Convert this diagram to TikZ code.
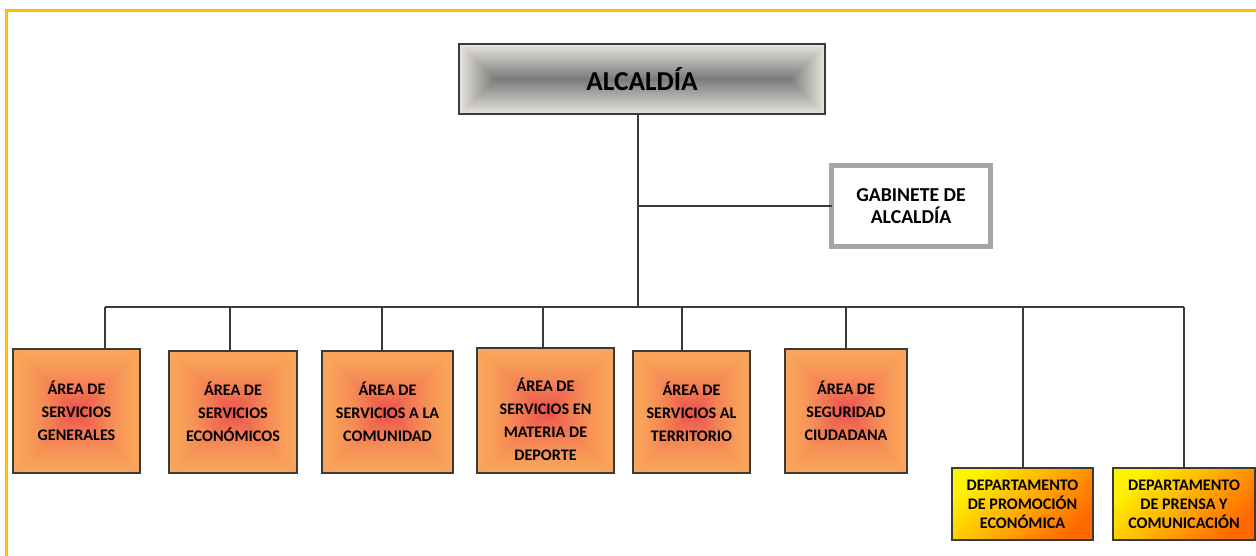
\documentclass[tikz,border=0pt]{standalone}
\usepackage{fontspec}
\setmainfont{Carlito}
\usepackage{xcolor}
\usepackage{tikz}
\usetikzlibrary{calc}
\definecolor{frameyel}{HTML}{FFC000}
\definecolor{edge}{HTML}{3A3A3A}
\definecolor{gabgray}{HTML}{A6A6A6}
\definecolor{depyel}{HTML}{FFF200}
\definecolor{deporg}{HTML}{FF6A00}
\pgfdeclarefunctionalshading{alcgray}{\pgfpoint{-50bp}{-50bp}}{\pgfpoint{50bp}{50bp}}{}{
  abs 25 exch sub 0.04 mul
  exch abs 25 exch sub 0.2044 mul
  2 copy gt {exch} if pop
  dup 0 lt {pop 0} if
  dup dup -0.43 mul 0.91 add
  3 1 roll -0.42 mul 0.90 add
  exch -0.39 mul 0.87 add
}
\pgfdeclarefunctionalshading{areaorg}{\pgfpoint{-50bp}{-50bp}}{\pgfpoint{50bp}{50bp}}{}{
  abs 25 exch sub
  exch abs 25 exch sub
  2 copy gt {exch} if pop
  dup 0 lt {pop 0} if
  0.04 mul dup sqrt mul
  dup dup -0.06 mul 0.98 add
  3 1 roll -0.34 mul 0.65 add
  exch -0.05 mul 0.35 add
}
\def\u{0.75pt}
\tikzset{
  frame/.style={draw=frameyel, line width=3*\u},
  conn/.style={draw=edge, line width=1.8*\u},
  alcbox/.style={draw=edge, line width=2*\u, shading=alcgray, inner sep=0pt, outer sep=0pt,
    font=\fontsize{20.5}{24}\selectfont\bfseries},
  gabbox/.style={draw=gabgray, line width=5*\u, fill=white, inner sep=0pt, outer sep=0pt,
    align=center, font=\fontsize{14.8}{16.8}\selectfont\bfseries},
  areabox/.style={draw=edge, line width=1.6*\u, shading=areaorg, inner sep=0pt, outer sep=0pt,
    align=center, font=\fontsize{12.1}{17.3}\selectfont\bfseries},
  depbox/.style={draw=edge, line width=1.6*\u, top color=depyel, bottom color=deporg,
    shading angle=45, inner sep=0pt, outer sep=0pt,
    align=center, font=\fontsize{12.1}{14.3}\selectfont\bfseries},
  lab/.style={align=center, font=\fontsize{12.1}{17.3}\selectfont\bfseries},
}
\begin{document}
\begin{tikzpicture}[x=\u, y=-\u]
  \useasboundingbox (0,0) rectangle (1256,556);
  \draw[frame] (1256,10.5) -- (6.5,10.5) -- (6.5,556);

  \node[alcbox, minimum width=366*\u, minimum height=70*\u] (alc) at (642,79) {ALCALDÍA};
  \node[gabbox, minimum width=159*\u, minimum height=80*\u] (gab) at (911,206)
    {GABINETE DE\\ALCALDÍA};

  \node[areabox, minimum width=127*\u, minimum height=124*\u] (b1) at (76.5,411)
    {ÁREA DE\\SERVICIOS\\GENERALES};
  \node[areabox, minimum width=128*\u, minimum height=122*\u] (b2) at (233,412)
    {ÁREA DE\\SERVICIOS\\ECONÓMICOS};
  \node[areabox, minimum width=131*\u, minimum height=122*\u] (b3) at (387.5,412)
    {ÁREA DE\\SERVICIOS A LA\\COMUNIDAD};
  \node[areabox, minimum width=137*\u, minimum height=125*\u] (b4) at (545.5,410.5) {};
  \node[lab] at ($(b4)+(0,9)$) {ÁREA DE\\SERVICIOS EN\\MATERIA DE\\DEPORTE};
  \node[areabox, minimum width=117*\u, minimum height=122*\u] (b5) at (691.5,412)
    {ÁREA DE\\SERVICIOS AL\\TERRITORIO};
  \node[areabox, minimum width=122*\u, minimum height=124*\u] (b6) at (846,411)
    {ÁREA DE\\SEGURIDAD\\CIUDADANA};

  \node[depbox, minimum width=141*\u, minimum height=72*\u] (b7) at (1022.5,504)
    {DEPARTAMENTO\\DE PROMOCIÓN\\ECONÓMICA};
  \node[depbox, minimum width=142*\u, minimum height=72*\u] (b8) at (1184,504)
    {DEPARTAMENTO\\DE PRENSA Y\\COMUNICACIÓN};

  \coordinate (T) at (638,307);
  \foreach \x [count=\i] in {105,230,382,543,682,846,1023,1184}
    \coordinate (c\i) at (\x,307);

  \draw[conn] (alc.south -| T) -- (T);
  \draw[conn] (gab.west) -- (gab.west -| T);
  \draw[conn] (c1) -- (c8);
  \foreach \i in {1,...,8}
    \draw[conn] (c\i) -- (c\i |- b\i.north);
\end{tikzpicture}
\end{document}
